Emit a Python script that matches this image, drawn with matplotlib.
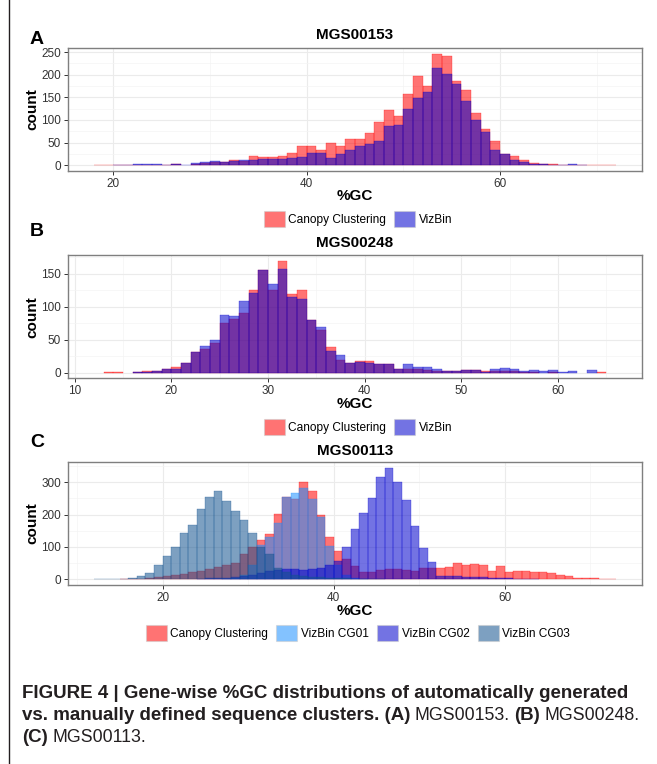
import matplotlib
matplotlib.use("Agg")
import matplotlib.pyplot as plt
from matplotlib.patches import Patch
from matplotlib.ticker import FixedLocator

plt.rcParams['font.family'] = ['Liberation Sans', 'DejaVu Sans']

# ---------------- data (bin left edges, bin width = 1 %GC) ----------------
a_bins = list(range(18, 72))
a_canopy = [1, 1, 1, 1, 1, 1, 1, 1, 2, 0, 3, 5, 8, 6, 12, 9, 20, 18, 18, 20,
            27, 42, 42, 34, 49, 43, 58, 58, 71, 96, 122, 109, 157, 197, 175, 246, 241, 186, 166, 115,
            80, 53, 25, 21, 12, 4, 3, 2, 1, 1, 1, 1, 1, 1]
a_vizbin = [0, 0, 1, 1, 2, 3, 3, 1, 3, 1, 5, 8, 10, 7, 9, 11, 12, 14, 14, 14,
            16, 18, 27, 27, 16, 25, 34, 42, 47, 53, 86, 89, 124, 149, 161, 215, 201, 180, 142, 100,
            73, 34, 25, 12, 7, 2, 2, 1, 1, 3, 1, 0, 0, 0]

b_bins = list(range(12, 66))
b_canopy = [0, 1, 1, 0, 1, 2, 2, 6, 9, 15, 31, 36, 45, 75, 82, 91, 126, 156, 126, 170,
            119, 125, 80, 65, 39, 19, 15, 17, 18, 13, 13, 6, 5, 5, 4, 3, 2, 2, 4, 4,
            2, 2, 3, 2, 1, 1, 0, 1, 0, 0, 0, 0, 1, 0]
b_vizbin = [0, 0, 0, 0, 1, 1, 2, 6, 6, 15, 31, 41, 50, 88, 86, 109, 121, 155, 135, 157,
            115, 112, 80, 70, 33, 27, 15, 16, 15, 13, 13, 6, 13, 8, 9, 5, 2, 2, 4, 4,
            1, 5, 7, 6, 3, 4, 2, 4, 1, 2, 0, 4, 0, 0]

c_bins = list(range(12, 73))
c_canopy = [0, 0, 0, 1, 1, 2, 4, 7, 10, 15, 17, 22, 27, 33, 38, 43, 51, 78, 99, 122,
            139, 202, 253, 249, 302, 272, 198, 132, 88, 62, 40, 22, 24, 30, 32, 32, 30, 27, 35, 35,
            35, 38, 51, 43, 48, 45, 27, 40, 22, 27, 25, 22, 24, 19, 15, 9, 5, 4, 3, 2, 1]
c_cg01 = [0, 0, 0, 0, 0, 0, 0, 0, 0, 0, 0, 0, 0, 0, 0, 2, 5, 15, 45, 106,
          132, 175, 253, 266, 282, 249, 192, 104, 45, 15, 5, 2, 0, 0, 0, 0, 0, 0, 0, 0,
          0, 0, 0, 0, 0, 0, 0, 0, 0, 0, 0, 0, 0, 0, 0, 0, 0, 0, 0, 0, 0]
c_cg02 = [0, 0, 0, 0, 0, 0, 0, 0, 0, 0, 0, 0, 2, 3, 4, 5, 7, 10, 15, 20,
          25, 30, 32, 32, 28, 33, 35, 43, 58, 100, 155, 205, 250, 315, 345, 300, 244, 165, 97, 54,
          12, 10, 10, 8, 8, 8, 5, 4, 3, 2, 2, 1, 0, 0, 0, 0, 0, 0, 0, 0, 0]
c_cg03 = [1, 1, 1, 2, 3, 10, 20, 43, 71, 99, 142, 167, 216, 254, 274, 241, 211, 182, 144, 99,
          78, 35, 22, 15, 12, 8, 6, 5, 4, 3, 2, 2, 1, 1, 0, 0, 0, 0, 0, 0,
          0, 0, 0, 0, 0, 0, 0, 0, 0, 0, 0, 0, 0, 0, 0, 0, 0, 0, 0, 0, 0]

labels_ab = ["Canopy Clustering", "VizBin"]
labels_c = ["Canopy Clustering", "VizBin CG01", "VizBin CG02", "VizBin CG03"]
titles = ["MGS00153", "MGS00248", "MGS00113"]
letters = ["A", "B", "C"]

# ---------------- styling ----------------
W, H = 657, 764
ALPHA = 0.55
COL = {"Canopy Clustering": "#FF0000", "VizBin": "#0000CD",
       "VizBin CG01": "#1E90FF", "VizBin CG02": "#0000CD", "VizBin CG03": "#12528F"}

fig = plt.figure(figsize=(W / 100, H / 100), dpi=100)


def rect(l, t, r, b):
    return [l / W, 1 - b / H, (r - l) / W, (b - t) / H]


def fx(x):
    return x / W


def fy(y):
    return 1 - y / H


def panel(box, bins, series, labels, title, letter, xlim, ylim,
          xmaj, xmin, ymaj, ymin, letter_y, title_y, xlab_y, leg_y):
    ax = fig.add_axes(rect(*box))
    for vals, lab in zip(series, labels):
        xs = [b for b, v in zip(bins, vals) if v > 0]
        hs = [v for v in vals if v > 0]
        ax.bar(xs, hs, width=1.0, align='edge', color=COL[lab], alpha=ALPHA,
               edgecolor=COL[lab], linewidth=0.35, zorder=3)
    ax.set_xlim(*xlim)
    ax.set_ylim(*ylim)
    ax.xaxis.set_major_locator(FixedLocator(xmaj))
    ax.xaxis.set_minor_locator(FixedLocator(xmin))
    ax.yaxis.set_major_locator(FixedLocator(ymaj))
    ax.yaxis.set_minor_locator(FixedLocator(ymin))
    ax.grid(which='major', color='#EBEBEB', linewidth=0.8, zorder=0)
    ax.grid(which='minor', color='#F4F4F4', linewidth=0.5, zorder=0)
    ax.set_axisbelow(True)
    ax.tick_params(which='major', direction='out', length=3, width=0.7,
                   color='#333333', labelsize=8.5, labelcolor='#333333', pad=2)
    ax.tick_params(which='minor', length=0)
    for s in ax.spines.values():
        s.set_color('#7F7F7F')
        s.set_linewidth(1.0)
    cx = (box[0] + box[2]) / 2
    fig.text(fx(cx), fy(title_y), title, ha='center', va='center',
             fontsize=11, fontweight='bold', color='black')
    fig.text(fx(37), fy(letter_y), letter, ha='center', va='center',
             fontsize=14, fontweight='bold', color='black')
    fig.text(fx(cx), fy(xlab_y), "%GC", ha='center', va='center',
             fontsize=11, fontweight='bold', color='black')
    fig.text(fx(32), fy((box[1] + box[3]) / 2), "count", ha='center', va='center',
             rotation=90, fontsize=11, fontweight='bold', color='black')
    handles = [Patch(facecolor=COL[l], alpha=ALPHA, edgecolor='#CCCCCC', linewidth=0.8)
               for l in labels]
    fig.legend(handles, labels, loc='center', bbox_to_anchor=(fx(cx + 3), fy(leg_y)),
               bbox_transform=fig.transFigure, ncol=len(labels), frameon=False,
               fontsize=8.6, handlelength=1.75, handleheight=1.75, handletextpad=0.3,
               columnspacing=0.7, borderpad=0, borderaxespad=0)
    return ax


panel((68, 48.3, 642, 170.7), a_bins, [a_canopy, a_vizbin], labels_ab, titles[0], letters[0],
      (15.3, 74.7), (-12.3, 258.3), [20, 40, 60], [30, 50, 70],
      [0, 50, 100, 150, 200, 250], [25, 75, 125, 175, 225],
      40, 35, 196, 219)

panel((68, 255, 642, 378.3), b_bins, [b_canopy, b_vizbin], labels_ab, titles[1], letters[1],
      (9.3, 68.7), (-8.5, 178.5), [10, 20, 30, 40, 50, 60], [15, 25, 35, 45, 55, 65],
      [0, 50, 100, 150], [25, 75, 125, 175],
      231, 243, 404, 427)

panel((68, 462, 642, 585), c_bins, [c_canopy, c_cg01, c_cg02, c_cg03], labels_c, titles[2], letters[2],
      (8.95, 76.05), (-17.3, 362.3), [20, 40, 60], [10, 30, 50, 70],
      [0, 100, 200, 300], [50, 150, 250, 350],
      443, 451, 611, 633)

# left frame line of the figure box
fig.add_artist(plt.Line2D([fx(8.5), fx(8.5)], [0, 1], transform=fig.transFigure,
                          color='#231F20', linewidth=1.0))

# ---------------- caption ----------------
renderer = fig.canvas.get_renderer()
CAP_SIZE = 13.5
CAP_COL = '#231F20'


def rich_line(x, y, parts, regular_scale=1.0):
    for i, (txt, weight) in enumerate(parts):
        size = CAP_SIZE if weight == 'bold' else CAP_SIZE * regular_scale
        t = fig.text(fx(x), fy(y), txt, fontsize=size, fontweight=weight,
                     ha='left', va='center', color=CAP_COL)
        bb = t.get_window_extent(renderer=renderer)
        x += bb.width + 0.24 * CAP_SIZE * 100 / 72


caption_lines = [
    [("FIGURE 4 | Gene-wise %GC distributions of automatically generated", 'bold')],
    [("vs. manually defined sequence clusters. (A)", 'bold'), ("MGS00153.", 'normal'),
     ("(B)", 'bold'), ("MGS00248.", 'normal')],
    [("(C)", 'bold'), ("MGS00113.", 'normal')],
]
for parts, yy in zip(caption_lines, [694, 716, 738]):
    rich_line(22, yy, parts, regular_scale=0.95)

fig.savefig("out.png", dpi=100)
